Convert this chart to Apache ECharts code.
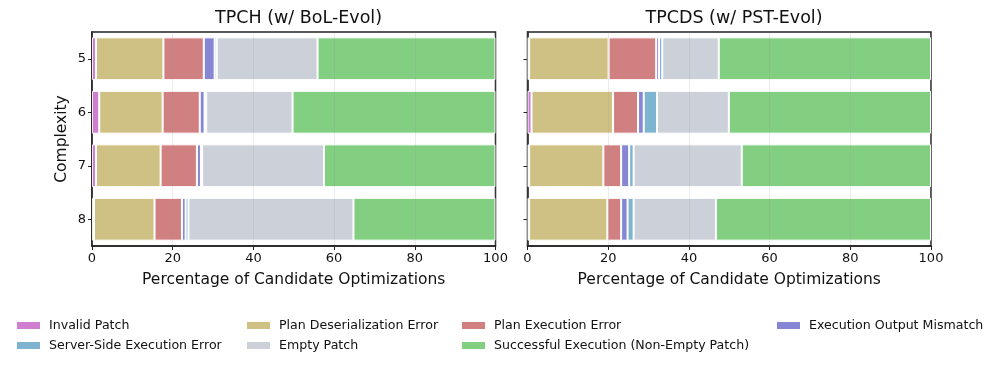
<!DOCTYPE html>
<html><head><meta charset="utf-8">
<script src="https://cdn.jsdelivr.net/npm/echarts@6/dist/echarts.min.js"></script>
<style>html,body{margin:0;padding:0;background:#fff}#c{width:997px;height:366px}</style>
</head><body><div id="c"></div>
<script>
const complexity = ['5','6','7','8'];
const xTicks = [0,20,40,60,80,100];
const seriesNames = ['Invalid Patch','Plan Deserialization Error','Plan Execution Error','Execution Output Mismatch','Server-Side Execution Error','Empty Patch','Successful Execution (Non-Empty Patch)'];
const colors = ['#d07fd0','#cfc083','#d08080','#8686d5','#7fb4d1','#ccd0d8','#82cf82'];

// TPCH (w/ BoL-Evol)
const tpchInvalid  = [1.0, 1.8, 1.0, 0.5];
const tpchDeser    = [16.7, 15.7, 16.0, 15.0];
const tpchExec     = [10.0, 9.2, 9.0, 6.8];
const tpchMismatch = [2.7, 1.2, 1.0, 0.9];
const tpchServer   = [0.5, 0.4, 0.3, 0.7];
const tpchEmpty    = [25.0, 21.4, 30.2, 40.9];
const tpchSuccess  = [44.1, 50.3, 42.5, 35.2];

// TPCDS (w/ PST-Evol)
const tpcdsInvalid  = [0.4, 1.0, 0.4, 0.4];
const tpcdsDeser    = [19.7, 20.2, 18.4, 19.4];
const tpcdsExec     = [11.8, 6.2, 4.4, 3.4];
const tpcdsMismatch = [0.7, 1.4, 2.0, 1.6];
const tpcdsServer   = [0.8, 3.3, 1.1, 1.5];
const tpcdsEmpty    = [14.0, 17.8, 26.8, 20.4];
const tpcdsSuccess  = [52.6, 50.1, 46.9, 53.3];

const tpch = [tpchInvalid,tpchDeser,tpchExec,tpchMismatch,tpchServer,tpchEmpty,tpchSuccess];
const tpcds = [tpcdsInvalid,tpcdsDeser,tpcdsExec,tpcdsMismatch,tpcdsServer,tpcdsEmpty,tpcdsSuccess];

const FONT = 'DejaVu Sans';
const grids = [
  {left:92, width:403.5, top:32, height:214, show:true, borderColor:'#222', borderWidth:1.5, backgroundColor:'transparent'},
  {left:527.5, width:403.5, top:32, height:214, show:true, borderColor:'#222', borderWidth:1.5, backgroundColor:'transparent'}
];
function xAx(i){return {type:'value', gridIndex:i, min:0, max:100, interval:20, z:10,
  name:'Percentage of Candidate Optimizations', nameLocation:'middle', nameGap:26,
  nameTextStyle:{fontFamily:FONT, fontSize:15.5, color:'#111'},
  axisLine:{show:true, lineStyle:{color:'#222', width:1.5}},
  axisTick:{show:true, length:4, lineStyle:{color:'#222'}},
  axisLabel:{fontFamily:FONT, fontSize:13, color:'#111', margin:6},
  splitLine:{show:true, lineStyle:{color:'rgba(150,150,150,0.18)', width:1}}};}
function yAx(i, lab){return {type:'category', gridIndex:i, data:complexity, inverse:true,
  name: lab ? 'Complexity' : '', nameLocation:'middle', nameGap:22, nameRotate:90,
  nameTextStyle:{fontFamily:FONT, fontSize:15.5, color:'#111'},
  axisLine:{show:true, lineStyle:{color:'#222', width:1.5}},
  axisTick:{show:true, alignWithLabel:true, length:4, lineStyle:{color:'#222'}},
  axisLabel:{show:lab, fontFamily:FONT, fontSize:13, color:'#111', margin:6},
  splitLine:{show:false}};}

const series = [];
[tpch, tpcds].forEach((ds, gi) => {
  ds.forEach((vals, k) => {
    series.push({type:'bar', name:seriesNames[k], stack:'s'+gi, xAxisIndex:gi, yAxisIndex:gi,
      data:vals, barWidth:'80%', itemStyle:{color:colors[k], borderColor:'#fff', borderWidth:1},
      emphasis:{disabled:true}, animation:false});
  });
});

const legendPos = [
  {name:'Invalid Patch', left:15, top:319},
  {name:'Server-Side Execution Error', left:15, top:339},
  {name:'Plan Deserialization Error', left:245, top:319},
  {name:'Empty Patch', left:245, top:339},
  {name:'Plan Execution Error', left:460, top:319},
  {name:'Successful Execution (Non-Empty Patch)', left:460, top:339},
  {name:'Execution Output Mismatch', left:775, top:319}
];
const legends = legendPos.map(p => ({data:[p.name], left:p.left, top:p.top, itemWidth:25, itemHeight:9,
  itemGap:0, padding:0, icon:'rect', selectedMode:false,
  textStyle:{fontFamily:FONT, fontSize:12.6, color:'#111', padding:[0,0,0,3]}}));

const chart = echarts.init(document.getElementById('c'), null, {renderer:'canvas'});
chart.setOption({
  animation:false,
  backgroundColor:'#fff',
  title:[
    {text:'TPCH (w/ BoL-Evol)', left:293.5, top:4, textAlign:'center', textStyle:{fontFamily:FONT, fontSize:17.5, fontWeight:'normal', color:'#111'}},
    {text:'TPCDS (w/ PST-Evol)', left:729, top:4, textAlign:'center', textStyle:{fontFamily:FONT, fontSize:17.5, fontWeight:'normal', color:'#111'}}
  ],
  legend: legends,
  grid: grids,
  xAxis:[xAx(0), xAx(1)],
  yAxis:[yAx(0,true), yAx(1,false)],
  series: series
});
</script></body></html>
